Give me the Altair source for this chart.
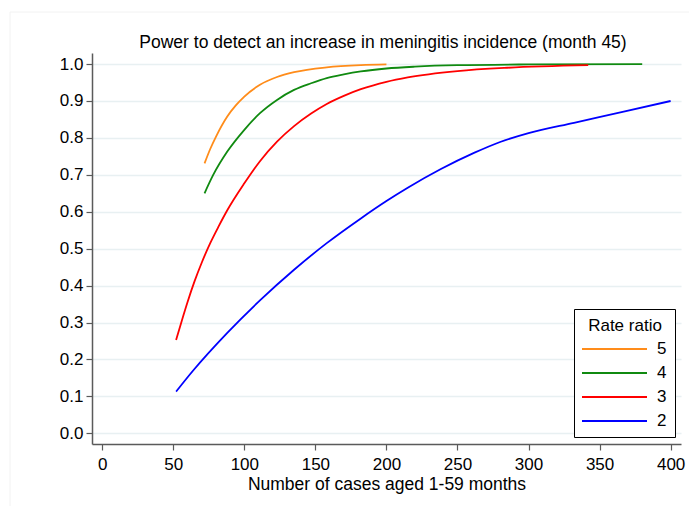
import altair as alt
import pandas as pd

# Power curves by rate ratio: number of cases (x) and power (y)
ratio_labels = ["5", "4", "3", "2"]
ratio_colors = ["#ff8c1a", "#108a10", "#ff0000", "#0000ff"]

cases_rr5 = [72, 76, 80, 88, 94, 100, 111, 123, 135, 158, 182, 200]
power_rr5 = [0.731, 0.770, 0.803, 0.858, 0.888, 0.912, 0.944, 0.965, 0.978, 0.991,
             0.997, 0.999]

cases_rr4 = [72, 78, 88, 100, 111, 123, 135, 147, 158, 170, 182, 200, 220, 250, 300, 380]
power_rr4 = [0.650, 0.699, 0.763, 0.822, 0.867, 0.903, 0.930, 0.948, 0.962, 0.972,
             0.980, 0.988, 0.993, 0.997, 0.999, 1.0]

cases_rr3 = [52, 56, 60, 65, 70, 76, 82, 88, 100, 111, 123, 135, 147, 158, 170, 182,
             200, 215, 250, 285, 342]
power_rr3 = [0.253, 0.305, 0.355, 0.412, 0.462, 0.515, 0.561, 0.604, 0.677, 0.737,
             0.790, 0.832, 0.866, 0.892, 0.914, 0.932, 0.952, 0.964, 0.981, 0.990, 0.997]

cases_rr2 = [52, 64, 88, 111, 135, 158, 182, 200, 215, 238, 262, 280, 300, 332, 367, 400]
power_rr2 = [0.113, 0.170, 0.272, 0.360, 0.443, 0.515, 0.582, 0.629, 0.665, 0.715,
             0.760, 0.789, 0.813, 0.841, 0.871, 0.900]

x_ticks = [0, 50, 100, 150, 200, 250, 300, 350, 400]
y_ticks = [0.0, 0.1, 0.2, 0.3, 0.4, 0.5, 0.6, 0.7, 0.8, 0.9, 1.0]

chart_title = "Power to detect an increase in meningitis incidence (month 45)"
x_title = "Number of cases aged 1-59 months"
legend_title = "Rate ratio"

FONT = "Liberation Sans"

rows = []
for lab, xs, ys in zip(ratio_labels,
                       [cases_rr5, cases_rr4, cases_rr3, cases_rr2],
                       [power_rr5, power_rr4, power_rr3, power_rr2]):
    for i, (xv, yv) in enumerate(zip(xs, ys)):
        rows.append({"ratio": lab, "cases": xv, "power": yv, "i": i})
curves = pd.DataFrame(rows)

color_scale = alt.Scale(domain=ratio_labels, range=ratio_colors)

lines = alt.Chart(curves).mark_line(strokeWidth=1.8, interpolate="monotone").encode(
    x=alt.X("cases:Q",
            scale=alt.Scale(domain=[-7.2, 407.3], nice=False, zero=False),
            axis=alt.Axis(values=x_ticks, format=".0f", title=x_title, grid=False,
                          tickSize=6, labelPadding=6, titlePadding=3,
                          labelFontSize=17, titleFontSize=17.5,
                          titleFontWeight="normal")),
    y=alt.Y("power:Q",
            scale=alt.Scale(domain=[-0.029, 1.030], nice=False, zero=False),
            axis=alt.Axis(values=y_ticks, format=".1f", title=None, grid=True,
                          tickSize=6, labelPadding=3, labelFontSize=17)),
    color=alt.Color("ratio:N", scale=color_scale, legend=None),
    detail="ratio:N",
    order="i:Q",
)

# Title drawn above the plot area
title_df = pd.DataFrame({"t": [chart_title]})
title = alt.Chart(title_df).mark_text(fontSize=17.5, font=FONT, baseline="alphabetic",
                                      align="center", color="#000000").encode(
    text="t:N", x=alt.value(291), y=alt.value(-5))

# Legend panel
box_df = pd.DataFrame({"b": [1]})
legend_box = alt.Chart(box_df).mark_rect(fill="white", stroke="black",
                                         strokeWidth=1).encode(
    x=alt.value(482.5), x2=alt.value(583.5), y=alt.value(256.5), y2=alt.value(384.5))
legend_head = alt.Chart(pd.DataFrame({"t": [legend_title]})).mark_text(
    fontSize=17, font=FONT, baseline="middle", align="center").encode(
    text="t:N", x=alt.value(533), y=alt.value(273))

leg_df = pd.DataFrame({"ratio": ratio_labels})
leg_y = alt.Y("ratio:N", scale=alt.Scale(domain=ratio_labels, range=[296, 368],
                                         type="point", padding=0), axis=None)
legend_lines = alt.Chart(leg_df).mark_rule(strokeWidth=1.8).encode(
    x=alt.value(490), x2=alt.value(555), y=leg_y,
    color=alt.Color("ratio:N", scale=color_scale, legend=None))
legend_text = alt.Chart(leg_df).mark_text(fontSize=17, font=FONT, align="left",
                                          baseline="middle", color="black").encode(
    x=alt.value(565), y=leg_y, text="ratio:N")
legend = alt.layer(legend_box, legend_head, legend_lines, legend_text)

# Faint outer frame of the graph region
frame = alt.Chart(box_df).mark_rule(color="#f2f2f2", strokeWidth=1).encode(
    x=alt.value(-82), x2=alt.value(620), y=alt.value(-41))
frame_left = alt.Chart(box_df).mark_rule(color="#f2f2f2", strokeWidth=1).encode(
    x=alt.value(-82), y=alt.value(-41), y2=alt.value(460))

chart = alt.layer(frame, frame_left, lines, title, legend).resolve_scale(
    y="independent"
).properties(
    width=589, height=391,
    autosize=alt.AutoSizeParams(type="none"),
    padding={"left": 92, "top": 53, "right": 8, "bottom": 62},
    background="white",
).configure_view(stroke=None).configure_axis(
    labelFont=FONT, titleFont=FONT, labelColor="black", titleColor="black",
    domainColor="#5a5a5a", tickColor="#5a5a5a", domainWidth=1.5, tickWidth=1.2,
    gridColor="#e8f0f2", gridWidth=1.5,
).configure_axisY(labelAlign="right", labelBaseline="middle")

chart.save("out.html", embed_options={"renderer": "svg", "actions": False})
